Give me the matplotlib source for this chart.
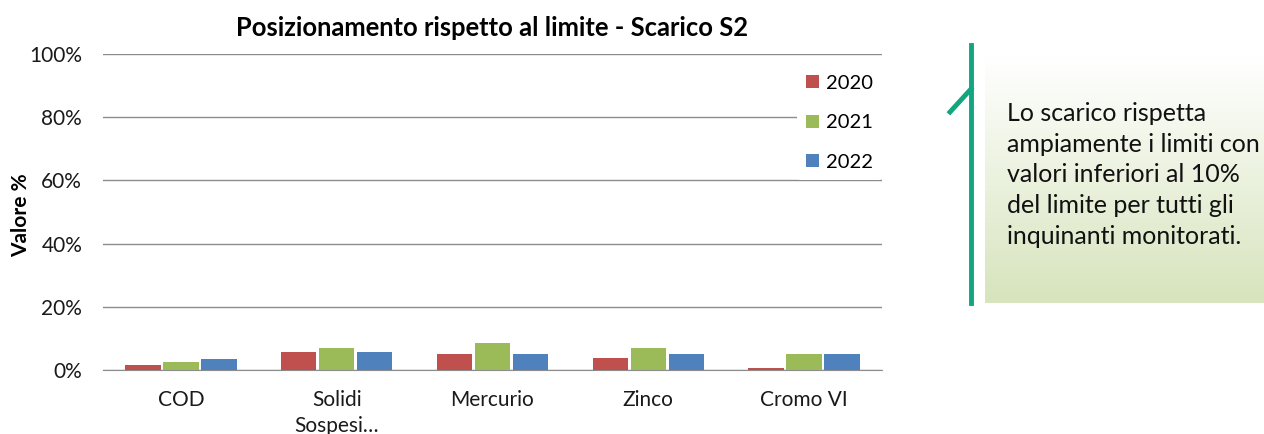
import matplotlib
matplotlib.use("Agg")
import matplotlib.pyplot as plt
import numpy as np
from matplotlib.lines import Line2D
from matplotlib.patches import Patch

plt.rcParams['font.family'] = ['Lato', 'DejaVu Sans']

categories = ["COD", "Solidi\nSospesi…", "Mercurio", "Zinco", "Cromo VI"]
years = ["2020", "2021", "2022"]
v2020 = [1.7, 5.7, 5.0, 3.8, 0.5]
v2021 = [2.4, 6.9, 8.5, 6.9, 5.0]
v2022 = [3.4, 5.7, 5.0, 5.0, 5.0]
colors = ["#C0504D", "#9BBB59", "#4F81BD"]
title = "Posizionamento rispetto al limite - Scarico S2"
ylabel = "Valore %"
yticks = [0, 20, 40, 60, 80, 100]
note = "Lo scarico rispetta\nampiamente i limiti con\nvalori inferiori al 10%\ndel limite per tutti gli\ninquinanti monitorati."

W, H = 1264, 434
fig = plt.figure(figsize=(W/100, H/100), dpi=100)
ax = fig.add_axes([103/W, 1-370/H, (882-103)/W, (370-54)/H])

x = np.arange(len(categories))
bw = 0.228
step = 0.244
for i, (vals, c) in enumerate(zip([v2020, v2021, v2022], colors)):
    ax.bar(x + (i-1)*step, vals, width=bw, color=c, edgecolor='none', zorder=3)

ax.set_xlim(-0.5, len(categories)-0.5)
ax.set_ylim(0, 100)
ax.set_yticks(yticks)
ax.set_yticklabels([f"{t}%" for t in yticks], fontsize=15, color='#1a1a1a')
ax.set_xticks(x)
ax.set_xticklabels(categories, fontsize=15, linespacing=1.35, color='#1a1a1a')
ax.tick_params(axis='x', length=0, pad=14.5)
ax.tick_params(axis='y', length=0, pad=15)
ax.grid(axis='y', color='#8c8c8c', linewidth=1, zorder=0)
for s in ['top', 'right', 'left']:
    ax.spines[s].set_visible(False)
ax.spines['bottom'].set_color('#8c8c8c')
fig.text(21/W, 1-215/H, ylabel, rotation=90, ha='center', va='center', fontsize=15, fontweight='bold')
fig.text(492/W, 1-28/H, title, ha='center', va='center', fontsize=18.4, fontweight='bold')

handles = [Patch(facecolor=c, edgecolor='none') for c in colors]
leg = fig.legend(handles, years, loc='upper left', bbox_to_anchor=(797/W, 1-66/H),
                 frameon=True, fontsize=14.5, handlelength=0.62, handleheight=0.62,
                 labelspacing=1.11, handletextpad=0.35, borderpad=0.45, borderaxespad=0)
leg.get_frame().set_facecolor('white')
leg.get_frame().set_edgecolor('none')
leg.get_frame().set_alpha(1)
leg.set_zorder(10)

# note box with gradient
bax = fig.add_axes([985/W, 1-303/H, (W-985)/W, (303-57)/H])
grad = np.linspace(0, 1, 256).reshape(-1, 1)
top = np.array([1.0, 1.0, 1.0])
bot = np.array([0xd7, 0xe4, 0xbd]) / 255
img = top[None, None, :]*(1-grad[..., None]) + bot[None, None, :]*grad[..., None]
bax.imshow(img, aspect='auto', extent=[0, 1, 0, 1])
bax.axis('off')
fig.text(1007/W, 1-175/H, note, ha='left', va='center', fontsize=18, linespacing=1.40, color='#111111')

green = "#12A57F"
fig.add_artist(Line2D([971/W, 971/W], [1-45/H, 1-303/H], color=green, linewidth=3.5))
fig.add_artist(Line2D([950/W, 971/W], [1-112/H, 1-89/H], color=green, linewidth=3.5))

fig.savefig("out.png", dpi=100)
